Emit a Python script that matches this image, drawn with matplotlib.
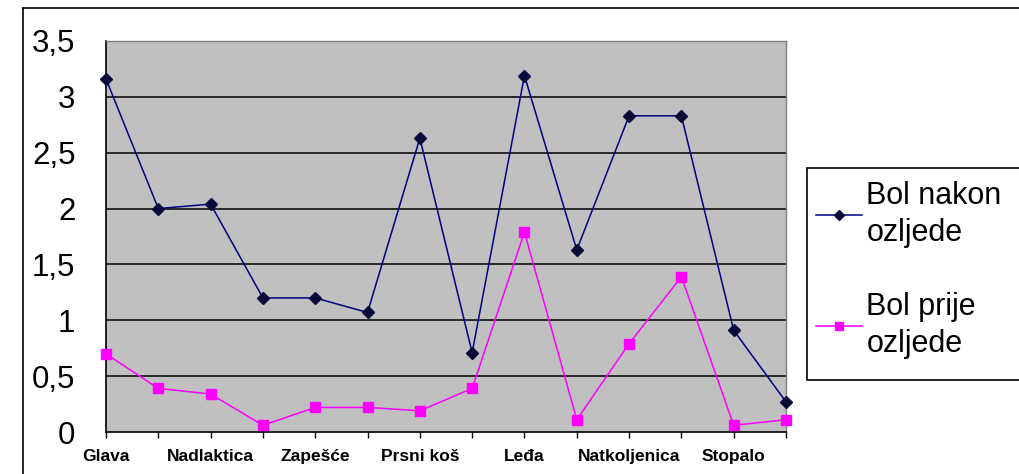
import matplotlib
matplotlib.use("Agg")
import matplotlib.pyplot as plt
from matplotlib.patches import Rectangle
from matplotlib.lines import Line2D
import numpy as np

plt.rcParams["font.family"] = ["Liberation Sans", "DejaVu Sans"]

# 14 body regions, only every other one is labelled on the axis
n_points = 14
label_positions = [0, 2, 4, 6, 8, 10, 12]
label_names = ["Glava", "Nadlaktica", "Zapešće", "Prsni koš", "Leđa",
               "Natkoljenica", "Stopalo"]

bol_nakon = [3.16, 2.00, 2.04, 1.20, 1.20, 1.07, 2.63, 0.71, 3.19, 1.63,
             2.83, 2.83, 0.91, 0.27]
bol_prije = [0.70, 0.39, 0.34, 0.06, 0.22, 0.22, 0.19, 0.39, 1.79, 0.11,
             0.79, 1.39, 0.06, 0.11]

y_ticks = [0, 0.5, 1, 1.5, 2, 2.5, 3, 3.5]
y_tick_labels = ["0", "0,5", "1", "1,5", "2", "2,5", "3", "3,5"]

W, H = 1020, 474
fig = plt.figure(figsize=(W / 100, H / 100), dpi=100)

# outer chart frame (left and top edges only show)
fig.add_artist(Line2D([23 / W, 23 / W], [0, 1 - 8 / H], color="black", lw=1.2,
                      transform=fig.transFigure))
fig.add_artist(Line2D([23 / W, 1], [1 - 8 / H, 1 - 8 / H], color="black", lw=1.2,
                      transform=fig.transFigure))

ax = fig.add_axes([106 / W, (H - 432) / H, 680 / W, 391 / H])
ax.set_facecolor("#c0c0c0")

x = np.arange(n_points)
ax.plot(x, bol_nakon, color="#000080", lw=1.1, marker="D", markersize=6.5,
        markerfacecolor="#0a0a3a", markeredgecolor="#0a0a3a",
        label="Bol nakon\nozljede", clip_on=False, zorder=4)
ax.plot(x, bol_prije, color="#ff00ff", lw=1.1, marker="s", markersize=7.5,
        markerfacecolor="#ff00ff", markeredgecolor="#ff00ff",
        label="Bol prije\nozljede", clip_on=False, zorder=3)

ax.set_xlim(0, n_points - 1)
ax.set_ylim(0, 3.5)

for v in y_ticks[1:-1]:
    ax.axhline(v, color="black", lw=1.1, zorder=1)

ax.set_yticks(y_ticks)
ax.set_yticklabels(y_tick_labels, fontsize=22.5)
ax.tick_params(axis="y", length=0, pad=22)

# a tick at every point, text only under the labelled ones
x_tick_labels = [""] * n_points
for pos, name in zip(label_positions, label_names):
    x_tick_labels[pos] = name
ax.set_xticks(x)
ax.set_xticklabels(x_tick_labels, fontsize=12.5, fontweight="bold")
ax.tick_params(axis="x", direction="out", length=4, width=1, color="black",
               pad=8)

for side in ("top", "right"):
    ax.spines[side].set_color("#808080")
    ax.spines[side].set_linewidth(1)
for side in ("left", "bottom"):
    ax.spines[side].set_color("black")
    ax.spines[side].set_linewidth(1.2)

# legend box runs off the right edge
fig.add_artist(Rectangle((807 / W, 1 - 380 / H), 300 / W, 212 / H,
                         transform=fig.transFigure, facecolor="white",
                         edgecolor="black", lw=1.2))
leg = fig.legend(loc="upper left", bbox_to_anchor=(816 / W, 1 - 181 / H),
                 frameon=False, fontsize=22, handlelength=1.5,
                 handletextpad=0.15, labelspacing=1.45, borderaxespad=0,
                 borderpad=0, markerscale=0.8)
for t in leg.get_texts():
    t.set_linespacing(1.3)

plt.savefig("out.png", dpi=100)
